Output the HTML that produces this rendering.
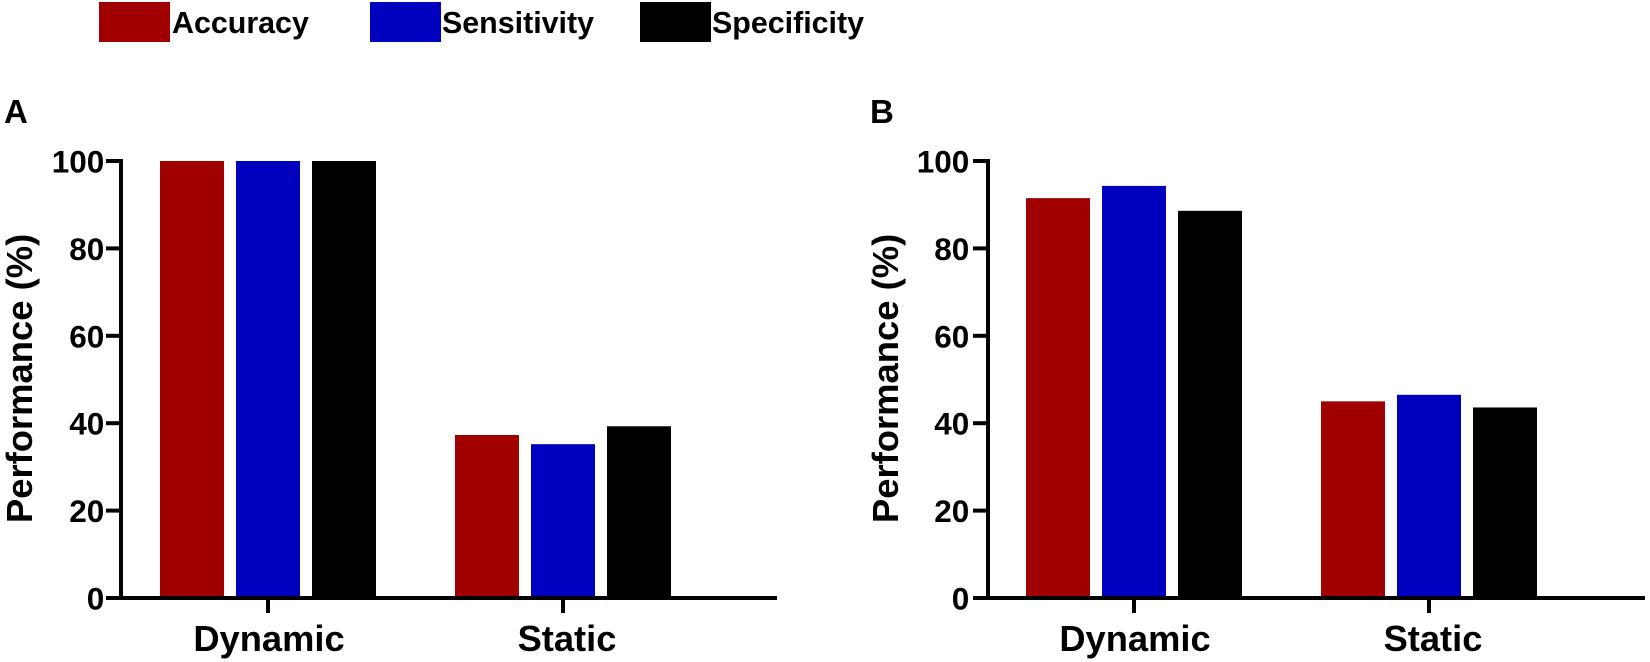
<!DOCTYPE html>
<html>
<head>
<meta charset="utf-8">
<title>Performance chart</title>
<style>
html,body{margin:0;padding:0;background:#fff;width:1650px;height:662px;overflow:hidden}
svg{display:block}
text{font-family:"Liberation Sans",sans-serif;font-weight:bold;fill:#000}
</style>
</head>
<body>
<svg id="chart" width="1650" height="662" viewBox="0 0 1650 662" xmlns="http://www.w3.org/2000/svg">
  <g>
    <g>
      <rect x="99" y="2" width="71" height="40" fill="#a00000"/>
      <text x="172" y="33" font-size="30.4">Accuracy</text>
    </g>
    <g>
      <rect x="370" y="2" width="71" height="40" fill="#0000bf"/>
      <text x="442" y="33" font-size="30.4">Sensitivity</text>
    </g>
    <g>
      <rect x="640" y="2" width="71" height="40" fill="#000"/>
      <text x="712" y="33" font-size="30.4">Specificity</text>
    </g>
  </g>
  <text x="4" y="123" font-size="33">A</text>
  <text x="870" y="123" font-size="33">B</text>
  <text transform="translate(32,523) rotate(-90)" font-size="36.4">Performance (%)</text>
  <text transform="translate(898,523) rotate(-90)" font-size="36.4">Performance (%)</text>
  <g id="panel-a"></g>
  <g id="panel-b"></g>
</svg>
<script>
const categories = ["Dynamic", "Static"];
const seriesNames = ["accuracy", "sensitivity", "specificity"];
const yTickValues = [0, 20, 40, 60, 80, 100];

const panelAAccuracy = [100, 37.3];
const panelASensitivity = [100, 35.2];
const panelASpecificity = [100, 39.3];

const panelBAccuracy = [91.5, 45];
const panelBSensitivity = [94.3, 46.5];
const panelBSpecificity = [88.6, 43.6];

const seriesColors = ["#a00000", "#0000bf", "#000000"];
const NS = "http://www.w3.org/2000/svg";

function yScale(v) {
  return 598 - v * 4.37;
}

function drawPanel(root, axisX, axisEnd, groupCenters, seriesValues, suffix, labelRight) {
  const barW = 64;
  const step = 76;
  function xScale(groupIndex, seriesIndex) {
    return groupCenters[groupIndex] + (seriesIndex - 1) * step - barW / 2;
  }

  seriesValues.forEach(function (values, s) {
    values.forEach(function (v, g) {
      const r = document.createElementNS(NS, "rect");
      r.setAttribute("x", xScale(g, s));
      r.setAttribute("y", yScale(v));
      r.setAttribute("width", barW);
      r.setAttribute("height", yScale(0) - yScale(v));
      r.setAttribute("fill", seriesColors[s]);
      
      
      root.appendChild(r);
    });
  });

  const yAxis = document.createElementNS(NS, "rect");
  yAxis.setAttribute("x", axisX - 2);
  yAxis.setAttribute("y", yScale(100) - 2);
  yAxis.setAttribute("width", 4);
  yAxis.setAttribute("height", yScale(0) - yScale(100) + 4);
  
  
  root.appendChild(yAxis);

  const xAxis = document.createElementNS(NS, "rect");
  xAxis.setAttribute("x", axisX - 15);
  xAxis.setAttribute("y", yScale(0) - 2);
  xAxis.setAttribute("width", axisEnd - axisX + 15);
  xAxis.setAttribute("height", 4);
  
  
  root.appendChild(xAxis);

  yTickValues.forEach(function (t) {
    const tick = document.createElementNS(NS, "rect");
    tick.setAttribute("x", axisX - 15);
    tick.setAttribute("y", yScale(t) - 2);
    tick.setAttribute("width", 15);
    tick.setAttribute("height", 4);
    
    
    root.appendChild(tick);

    const label = document.createElementNS(NS, "text");
    label.setAttribute("x", labelRight);
    label.setAttribute("y", yScale(t) + 11.5);
    label.setAttribute("text-anchor", "end");
    label.setAttribute("font-size", "31.5");
    label.textContent = String(t);
    
    
    root.appendChild(label);
  });

  categories.forEach(function (c, g) {
    const tick = document.createElementNS(NS, "rect");
    tick.setAttribute("x", groupCenters[g] - 2);
    tick.setAttribute("y", yScale(0));
    tick.setAttribute("width", 4);
    tick.setAttribute("height", 15);
    
    
    root.appendChild(tick);

    const label = document.createElementNS(NS, "text");
    label.setAttribute("x", groupCenters[g] + (g === 1 ? 4 : 1));
    label.setAttribute("y", 651);
    label.setAttribute("text-anchor", "middle");
    label.setAttribute("font-size", "36.3");
    label.textContent = c;
    
    
    root.appendChild(label);
  });
}

drawPanel(document.getElementById("panel-a"), 121, 777, [268, 563],
  [panelAAccuracy, panelASensitivity, panelASpecificity], "a", 104.3);
drawPanel(document.getElementById("panel-b"), 988, 1645, [1134, 1429],
  [panelBAccuracy, panelBSensitivity, panelBSpecificity], "b", 969.3);
</script>
</body>
</html>
